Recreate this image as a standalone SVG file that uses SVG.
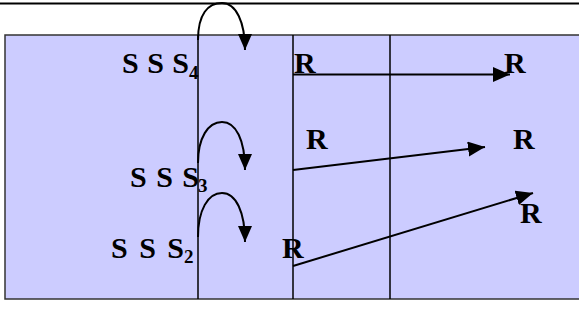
<svg xmlns="http://www.w3.org/2000/svg" width="579" height="333" viewBox="0 0 579 333">
<defs>
<marker id="ah" markerUnits="userSpaceOnUse" markerWidth="18" markerHeight="16" refX="17" refY="7.5" orient="auto">
<path d="M0,0 L17,7.5 L0,15 Z" fill="#000"/>
</marker>
<marker id="ah2" markerUnits="userSpaceOnUse" markerWidth="17" markerHeight="15" refX="16" refY="7" orient="auto">
<path d="M0,0 L16,7 L0,14 Z" fill="#000"/>
</marker>
</defs>
<rect width="579" height="333" fill="#fff"/>
<line x1="0" y1="3.5" x2="579" y2="3.5" stroke="#000" stroke-width="2"/>
<g id="panel" stroke="#000" stroke-width="1.5">
<rect x="5" y="35" width="590" height="264" fill="#CCCCFF" stroke="#333"/>
<line x1="198" y1="35" x2="198" y2="299"/>
<line x1="293" y1="35" x2="293" y2="299"/>
<line x1="390" y1="35" x2="390" y2="299"/>
</g>
<g font-family="Liberation Serif, Times New Roman, serif" font-weight="bold" font-size="30" fill="#000">
<g id="s4"><text x="122" y="73" word-spacing="1">S S S<tspan font-size="19" x="189" y="79">4</tspan></text></g>
<g id="s3"><text x="130" y="187" word-spacing="2">S S S<tspan font-size="19" x="198" y="192">3</tspan></text></g>
<g id="s2"><text x="111" y="258" word-spacing="4">S S S<tspan font-size="19" x="184" y="263">2</tspan></text></g>
<g id="r1"><text x="294" y="73">R</text></g>
<g id="r2"><text x="504" y="73">R</text></g>
<g id="r3"><text x="306" y="149">R</text></g>
<g id="r4"><text x="513" y="149">R</text></g>
<g id="r5"><text x="520" y="223">R</text></g>
<g id="r6"><text x="282" y="258">R</text></g>
</g>
<g id="connectors" stroke="#000" stroke-width="2" fill="none">
<path d="M198,40 C198,14 208,3 222,3 C236,3 245,22 245,50" marker-end="url(#ah2)"/>
<path d="M198,163 C198,138 208,122 222,122 C236,122 245,140 245,170" marker-end="url(#ah2)"/>
<path d="M198,237 C198,210 208,193 222,193 C236,193 245,212 245,242" marker-end="url(#ah2)"/>
<line x1="293" y1="74.5" x2="510" y2="74.5" marker-end="url(#ah)"/>
<line x1="293" y1="170" x2="485" y2="147" marker-end="url(#ah)"/>
<line x1="293" y1="266" x2="533" y2="193" marker-end="url(#ah)"/>
</g>
</svg>
